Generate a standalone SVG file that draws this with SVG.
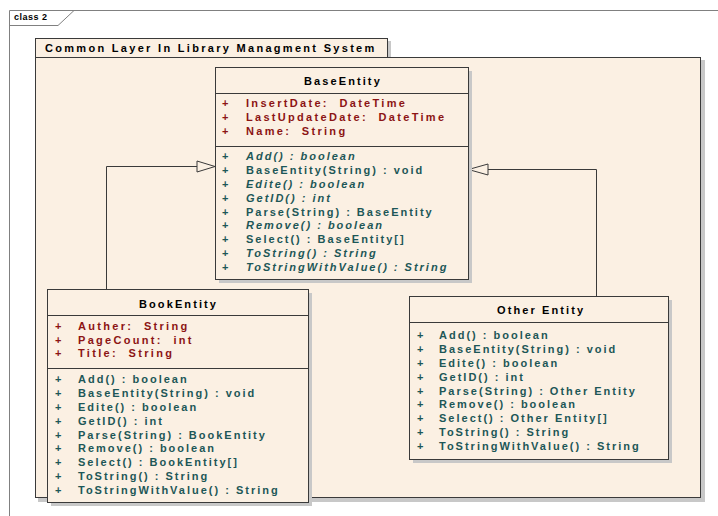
<svg xmlns="http://www.w3.org/2000/svg" width="718" height="516" viewBox="0 0 718 516">
  <style>
    text { font-family: "Liberation Sans", Arial, sans-serif; font-weight: bold; white-space: pre; }
    .frame { fill: none; stroke: #808080; stroke-width: 1; }
    .shadow { fill: #c8c8c8; }
    .box { fill: #fbf0e3; stroke: #3a3a3a; stroke-width: 1; }
    .sep { stroke: #3a3a3a; stroke-width: 1; }
    .title { font-size: 11px; letter-spacing: 2.1px; fill: #000; }
    .pkg { font-size: 11px; letter-spacing: 2.3px; fill: #000; }
    .attr { font-size: 11px; letter-spacing: 2.3px; fill: #8c1414; }
    .op { font-size: 11px; letter-spacing: 2px; fill: #1d5757; }
    .abs { font-style: italic; }
    .conn { fill: none; stroke: #3a3a3a; stroke-width: 1; }
    .head { fill: #fbf0e3; stroke: #3a3a3a; stroke-width: 1; }
  </style>

  <rect x="0" y="0" width="718" height="516" fill="#ffffff"/>

  <!-- diagram frame -->
  <g id="frame">
    <path class="frame" d="M9.5,516 V10.5 H718"/>
    <path class="frame" d="M9.5,25.5 H58 L74,10.5"/>
    <text x="14" y="20" style="font-size:9px; letter-spacing:0.5px" fill="#000">class 2</text>
  </g>

  <!-- package -->
  <g id="package">
    <rect class="shadow" x="38" y="41" width="353" height="19"/>
    <rect class="shadow" x="38" y="60" width="667" height="442"/>
    <rect class="box" x="35.5" y="38.5" width="352" height="19"/>
    <rect class="box" x="35.5" y="57.5" width="665" height="440"/>
    <text class="pkg" x="45" y="51.5">Common Layer In Library Managment System</text>
  </g>

  <!-- generalization connectors -->
  <g id="connectors">
    <path class="conn" d="M106.5,289 V166.5 H197"/>
    <polygon class="head" points="215,166.5 197,161 197,172"/>
    <path class="conn" d="M596.5,296 V169.5 H488"/>
    <polygon class="head" points="468.5,169.5 488,164 488,175"/>
  </g>

  <!-- BaseEntity -->
  <g id="BaseEntity">
    <rect class="shadow" x="219" y="71" width="253" height="212"/>
    <rect class="box" x="215.5" y="67.5" width="253" height="212"/>
    <line class="sep" x1="215.5" y1="93.5" x2="468.5" y2="93.5"/>
    <line class="sep" x1="215.5" y1="146.5" x2="468.5" y2="146.5"/>
    <text class="title" x="304" y="85">BaseEntity</text>
    <text class="attr" x="222" y="107">+</text><text class="attr" x="246" y="107">InsertDate:  DateTime</text>
    <text class="attr" x="222" y="121">+</text><text class="attr" x="246" y="121">LastUpdateDate:  DateTime</text>
    <text class="attr" x="222" y="135">+</text><text class="attr" x="246" y="135">Name:  String</text>
    <text class="op" x="222" y="160">+</text><text class="op abs" x="246" y="160">Add() : boolean</text>
    <text class="op" x="222" y="174">+</text><text class="op" x="246" y="174">BaseEntity(String) : void</text>
    <text class="op" x="222" y="188">+</text><text class="op abs" x="246" y="188">Edite() : boolean</text>
    <text class="op" x="222" y="202">+</text><text class="op abs" x="246" y="202">GetID() : int</text>
    <text class="op" x="222" y="215.5">+</text><text class="op" x="246" y="215.5">Parse(String) : BaseEntity</text>
    <text class="op" x="222" y="229">+</text><text class="op abs" x="246" y="229">Remove() : boolean</text>
    <text class="op" x="222" y="243">+</text><text class="op" x="246" y="243">Select() : BaseEntity[]</text>
    <text class="op" x="222" y="257">+</text><text class="op abs" x="246" y="257">ToString() : String</text>
    <text class="op" x="222" y="271">+</text><text class="op abs" x="246" y="271">ToStringWithValue() : String</text>
  </g>

  <!-- BookEntity -->
  <g id="BookEntity">
    <rect class="shadow" x="51" y="293" width="261" height="213"/>
    <rect class="box" x="47.5" y="289.5" width="261" height="213"/>
    <line class="sep" x1="47.5" y1="315.5" x2="308.5" y2="315.5"/>
    <line class="sep" x1="47.5" y1="368.5" x2="308.5" y2="368.5"/>
    <text class="title" x="139" y="308">BookEntity</text>
    <text class="attr" x="55" y="330">+</text><text class="attr" x="78" y="330">Auther:  String</text>
    <text class="attr" x="55" y="343.5">+</text><text class="attr" x="78" y="343.5">PageCount:  int</text>
    <text class="attr" x="55" y="357">+</text><text class="attr" x="78" y="357">Title:  String</text>
    <text class="op" x="55" y="383">+</text><text class="op" x="78" y="383">Add() : boolean</text>
    <text class="op" x="55" y="397">+</text><text class="op" x="78" y="397">BaseEntity(String) : void</text>
    <text class="op" x="55" y="411">+</text><text class="op" x="78" y="411">Edite() : boolean</text>
    <text class="op" x="55" y="424.5">+</text><text class="op" x="78" y="424.5">GetID() : int</text>
    <text class="op" x="55" y="438.5">+</text><text class="op" x="78" y="438.5">Parse(String) : BookEntity</text>
    <text class="op" x="55" y="452">+</text><text class="op" x="78" y="452">Remove() : boolean</text>
    <text class="op" x="55" y="466">+</text><text class="op" x="78" y="466">Select() : BookEntity[]</text>
    <text class="op" x="55" y="480">+</text><text class="op" x="78" y="480">ToString() : String</text>
    <text class="op" x="55" y="494">+</text><text class="op" x="78" y="494">ToStringWithValue() : String</text>
  </g>

  <!-- Other Entity -->
  <g id="OtherEntity">
    <rect class="shadow" x="413" y="300" width="259" height="163"/>
    <rect class="box" x="409.5" y="296.5" width="259" height="163"/>
    <line class="sep" x1="409.5" y1="322.5" x2="668.5" y2="322.5"/>
    <text class="title" x="497" y="314">Other Entity</text>
    <text class="op" x="417" y="339">+</text><text class="op" x="439" y="339">Add() : boolean</text>
    <text class="op" x="417" y="353">+</text><text class="op" x="439" y="353">BaseEntity(String) : void</text>
    <text class="op" x="417" y="367">+</text><text class="op" x="439" y="367">Edite() : boolean</text>
    <text class="op" x="417" y="380.5">+</text><text class="op" x="439" y="380.5">GetID() : int</text>
    <text class="op" x="417" y="394.5">+</text><text class="op" x="439" y="394.5">Parse(String) : Other Entity</text>
    <text class="op" x="417" y="408">+</text><text class="op" x="439" y="408">Remove() : boolean</text>
    <text class="op" x="417" y="422">+</text><text class="op" x="439" y="422">Select() : Other Entity[]</text>
    <text class="op" x="417" y="436">+</text><text class="op" x="439" y="436">ToString() : String</text>
    <text class="op" x="417" y="450">+</text><text class="op" x="439" y="450">ToStringWithValue() : String</text>
  </g>
</svg>
